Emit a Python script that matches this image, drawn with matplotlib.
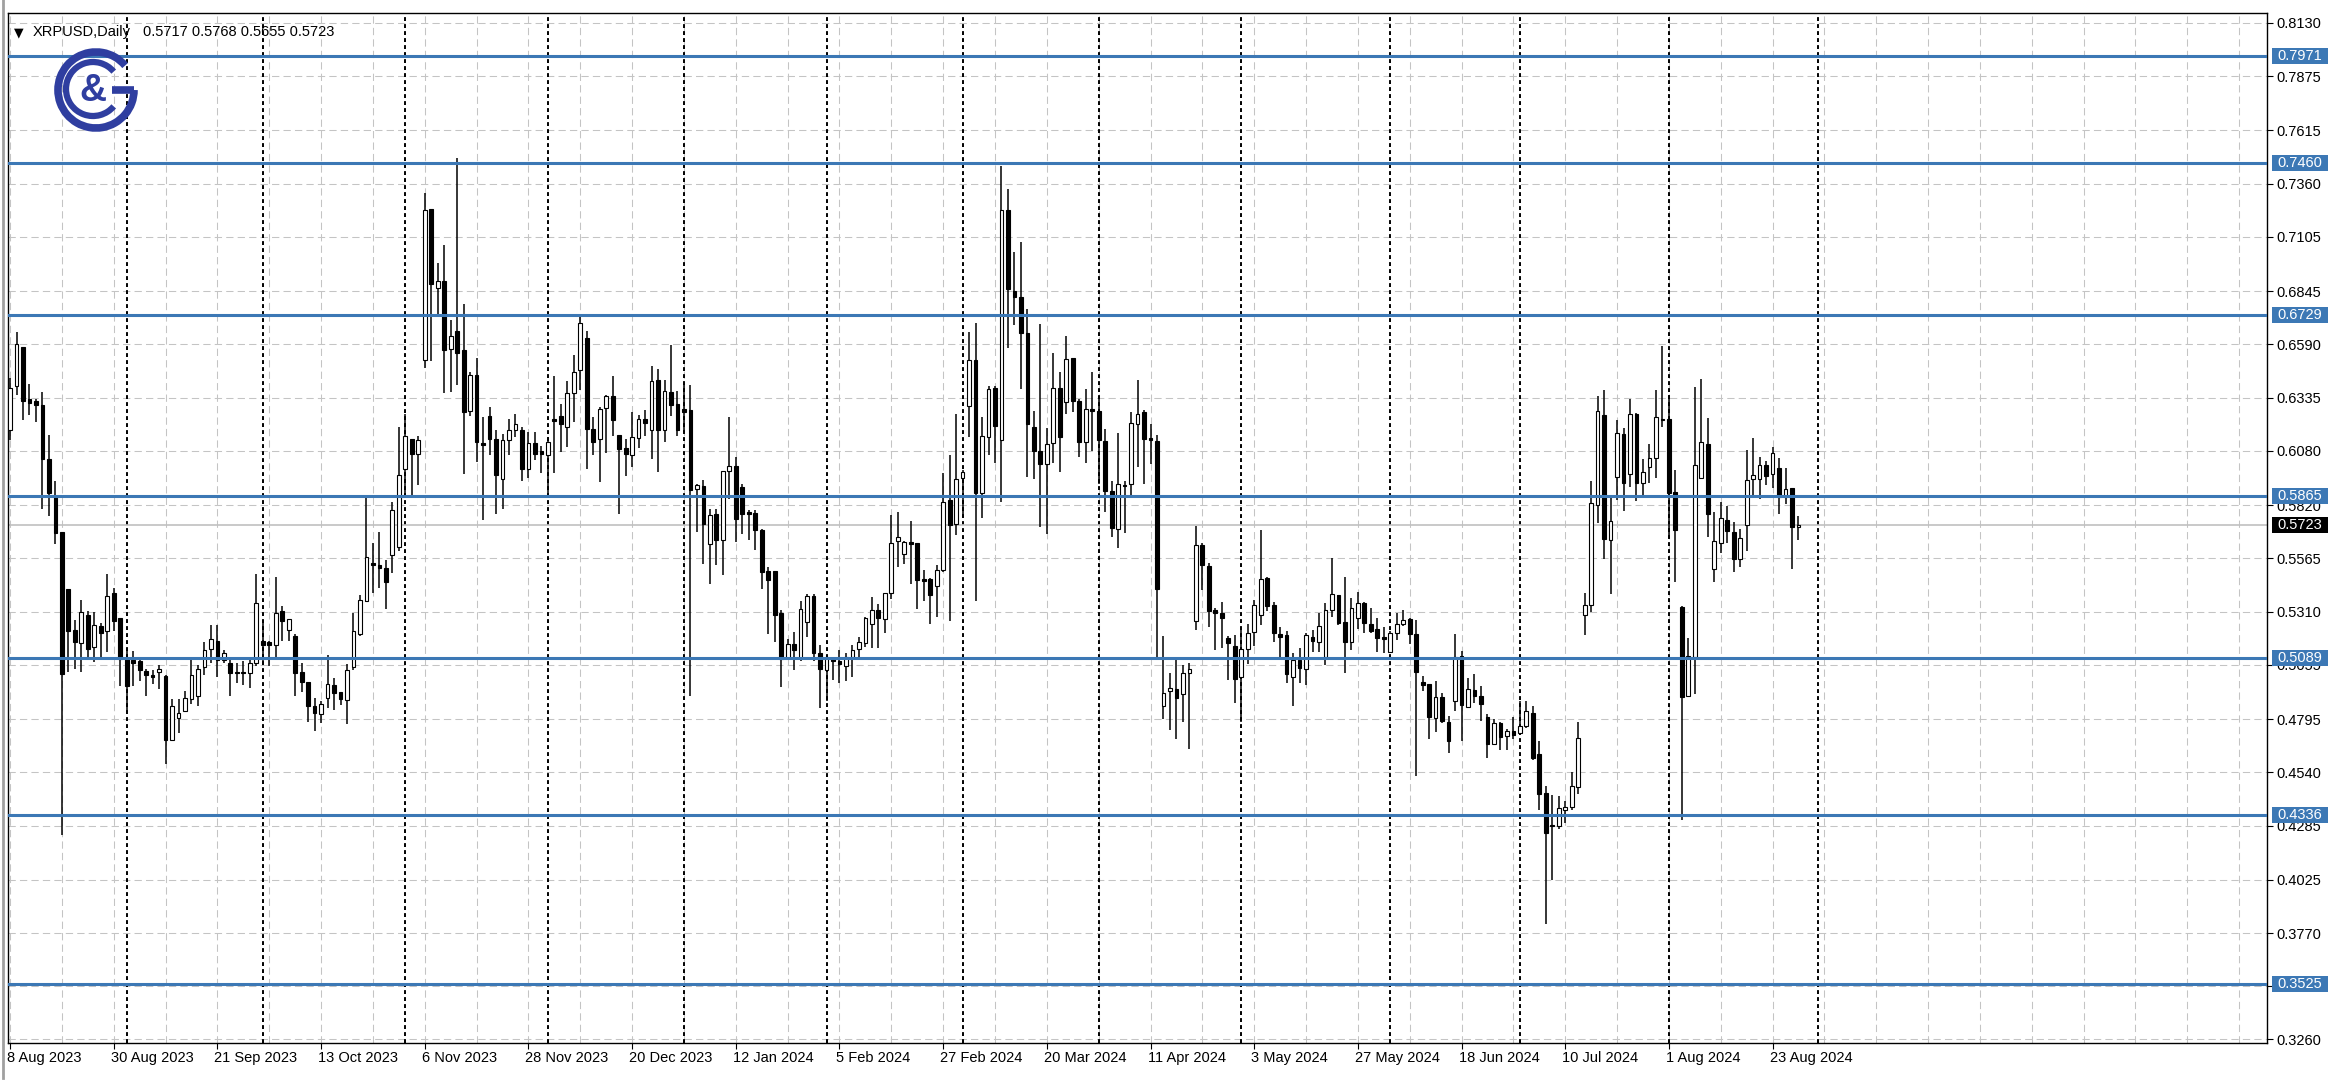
import numpy as np
import matplotlib
matplotlib.use('Agg')
import matplotlib.pyplot as plt
import matplotlib.transforms as mtransforms
from matplotlib.patches import Rectangle, Arc
from matplotlib.lines import Line2D

plt.rcParams['font.family'] = ['Liberation Sans', 'DejaVu Sans']

# XRPUSD daily bars, 8 Aug 2023 .. 29 Aug 2024 (weekdays only)
opens = [
    0.618, 0.639, 0.658, 0.633, 0.632, 0.630, 0.604, 0.586, 0.569, 0.5417,
    0.5223, 0.5158, 0.5292, 0.5142, 0.5239, 0.5215, 0.5401, 0.5279, 0.5085, 0.5077,
    0.5072, 0.5025, 0.5007, 0.5020, 0.5000, 0.4696, 0.4801, 0.4833, 0.4893, 0.4906,
    0.5047, 0.5130, 0.5171, 0.5079, 0.5063, 0.5023, 0.5023, 0.5018, 0.5063, 0.5170,
    0.5162, 0.5151, 0.5315, 0.5222, 0.5191, 0.5023, 0.4975, 0.4859, 0.4821, 0.4896,
    0.4959, 0.4923, 0.4888, 0.5044, 0.5203, 0.5363, 0.5544, 0.5533, 0.5517, 0.5581,
    0.5621, 0.5991, 0.6139, 0.6067, 0.6517, 0.7240, 0.6862, 0.6894, 0.6570, 0.6655,
    0.6562, 0.6272, 0.6442, 0.6118, 0.6246, 0.6139, 0.5943, 0.6131, 0.6182, 0.6179,
    0.5995, 0.6118, 0.6080, 0.6059, 0.6235, 0.6246, 0.6195, 0.6358, 0.6466, 0.6623,
    0.6187, 0.6138, 0.6287, 0.6341, 0.6154, 0.6095, 0.6058, 0.6143, 0.6234, 0.6178,
    0.6421, 0.6178, 0.6362, 0.6303, 0.6280, 0.6274, 0.5899, 0.5910, 0.5635, 0.5776,
    0.5654, 0.5983, 0.6006, 0.5907, 0.5787, 0.5782, 0.5702, 0.5504, 0.5504, 0.5303,
    0.5089, 0.5153, 0.5088, 0.5262, 0.5383, 0.5110, 0.5028, 0.5088, 0.5075, 0.5049,
    0.5093, 0.5133, 0.5158, 0.5249, 0.5319, 0.5276, 0.5401, 0.5650, 0.5585, 0.5644,
    0.5637, 0.5467, 0.5467, 0.5432, 0.5510, 0.5846, 0.5728, 0.5951, 0.6293, 0.6514,
    0.5876, 0.6145, 0.6380, 0.6133, 0.7233, 0.6847, 0.6818, 0.6646, 0.6195, 0.6078,
    0.6016, 0.6120, 0.6381, 0.6314, 0.6525, 0.6320, 0.6124, 0.6283, 0.6273, 0.6128,
    0.5886, 0.5705, 0.5917, 0.5923, 0.6208, 0.6264, 0.6143, 0.6128, 0.4857, 0.4928,
    0.4941, 0.4913, 0.5015, 0.5263, 0.5628, 0.5528, 0.5317, 0.5301, 0.5182, 0.5147,
    0.4996, 0.5129, 0.5214, 0.5293, 0.5469, 0.5341, 0.5202, 0.5198, 0.4998, 0.5078,
    0.5033, 0.5190, 0.5166, 0.5094, 0.5317, 0.5389, 0.5261, 0.5166, 0.5277, 0.5349,
    0.5253, 0.5225, 0.5186, 0.5118, 0.5206, 0.5253, 0.5273, 0.5201, 0.4974, 0.4965,
    0.4798, 0.4901, 0.4781, 0.4880, 0.5099, 0.4854, 0.4935, 0.4906, 0.4803, 0.4678,
    0.4774, 0.4713, 0.4740, 0.4730, 0.4764, 0.4825, 0.4627, 0.4439, 0.4290, 0.4282,
    0.4359, 0.4376, 0.4470, 0.5294, 0.5341, 0.5820, 0.6252, 0.5653, 0.5955, 0.6160,
    0.5971, 0.6258, 0.5924, 0.6003, 0.6045, 0.6231, 0.6231, 0.5881, 0.5334, 0.4908,
    0.5092, 0.5949, 0.6115, 0.5514, 0.5641, 0.5748, 0.5689, 0.5562, 0.5726, 0.5944,
    0.5944, 0.6013, 0.5968, 0.6000, 0.5860, 0.5904, 0.5717,
]
highs = [
    0.643, 0.665, 0.658, 0.640, 0.633, 0.636, 0.6155, 0.5936, 0.569, 0.5417,
    0.5271, 0.5364, 0.5315, 0.5309, 0.5255, 0.549, 0.5425, 0.5279, 0.5125, 0.5120,
    0.5077, 0.5036, 0.5028, 0.5056, 0.5004, 0.4890, 0.4890, 0.4931, 0.5077, 0.5056,
    0.5162, 0.5246, 0.5246, 0.5127, 0.5079, 0.5066, 0.5071, 0.5082, 0.5489, 0.5270,
    0.5167, 0.5474, 0.5337, 0.5273, 0.5203, 0.5066, 0.4975, 0.4896, 0.4880, 0.5103,
    0.4991, 0.4927, 0.5060, 0.5305, 0.5390, 0.5863, 0.5637, 0.5693, 0.5557, 0.5836,
    0.6195, 0.6259, 0.6139, 0.6150, 0.7315, 0.7240, 0.6980, 0.7065, 0.6706, 0.7484,
    0.6782, 0.6458, 0.6527, 0.6243, 0.6291, 0.6179, 0.6163, 0.6235, 0.6259, 0.6195,
    0.6171, 0.6171, 0.6102, 0.6147, 0.6438, 0.6307, 0.6415, 0.6538, 0.6734, 0.6655,
    0.6240, 0.6290, 0.6346, 0.6437, 0.6154, 0.6138, 0.6266, 0.6250, 0.6274, 0.6485,
    0.6473, 0.6421, 0.6585, 0.6366, 0.6402, 0.6398, 0.5919, 0.5942, 0.5803, 0.5803,
    0.5986, 0.6242, 0.6050, 0.5919, 0.5798, 0.5795, 0.5707, 0.5523, 0.5504, 0.5316,
    0.5180, 0.5212, 0.5363, 0.5394, 0.5394, 0.5150, 0.5101, 0.5088, 0.5128, 0.5110,
    0.5150, 0.5188, 0.5284, 0.5380, 0.5345, 0.5397, 0.5771, 0.5789, 0.5650, 0.5745,
    0.5641, 0.5510, 0.5470, 0.5533, 0.5972, 0.6058, 0.6259, 0.5989, 0.6650, 0.6694,
    0.6241, 0.6393, 0.6389, 0.7444, 0.7336, 0.7034, 0.7079, 0.6758, 0.6273, 0.6687,
    0.6189, 0.6549, 0.6456, 0.6631, 0.6525, 0.6329, 0.6376, 0.6456, 0.6344, 0.6184,
    0.5934, 0.6165, 0.5938, 0.6264, 0.6422, 0.6277, 0.6208, 0.6158, 0.5192, 0.5015,
    0.5077, 0.5052, 0.5065, 0.5718, 0.5640, 0.5541, 0.5325, 0.5357, 0.5193, 0.5198,
    0.5221, 0.5250, 0.5365, 0.5700, 0.5477, 0.5357, 0.5237, 0.5218, 0.5113, 0.5134,
    0.5206, 0.5221, 0.5301, 0.5352, 0.5565, 0.5389, 0.5474, 0.5373, 0.5405, 0.5357,
    0.5325, 0.5277, 0.5234, 0.5218, 0.5301, 0.5316, 0.5277, 0.5270, 0.5003, 0.4965,
    0.4979, 0.4918, 0.4812, 0.5201, 0.5123, 0.4991, 0.5013, 0.4952, 0.4820, 0.4795,
    0.4781, 0.4747, 0.4803, 0.4880, 0.4884, 0.4860, 0.4689, 0.4473, 0.4432, 0.4427,
    0.4405, 0.4542, 0.4781, 0.5401, 0.5936, 0.6341, 0.6370, 0.5865, 0.6226, 0.6188,
    0.6327, 0.6263, 0.6040, 0.6112, 0.6370, 0.6582, 0.6348, 0.5987, 0.5339, 0.5184,
    0.6386, 0.6423, 0.6239, 0.5785, 0.5833, 0.5817, 0.5737, 0.5705, 0.6083, 0.6144,
    0.6051, 0.6032, 0.6099, 0.6045, 0.6000, 0.5904, 0.5768,
]
lows = [
    0.613, 0.635, 0.623, 0.625, 0.622, 0.580, 0.577, 0.5636, 0.424, 0.5020,
    0.5036, 0.5020, 0.5093, 0.5069, 0.5093, 0.5117, 0.5215, 0.4955, 0.4829, 0.4955,
    0.4979, 0.4906, 0.4963, 0.4939, 0.4582, 0.4696, 0.4728, 0.4833, 0.4866, 0.4858,
    0.5007, 0.5066, 0.4999, 0.5066, 0.4904, 0.4967, 0.4959, 0.4943, 0.5050, 0.5055,
    0.5050, 0.5082, 0.5167, 0.5167, 0.4904, 0.4927, 0.4779, 0.4736, 0.4776, 0.4848,
    0.4840, 0.4864, 0.4773, 0.5028, 0.5191, 0.5358, 0.5398, 0.5422, 0.5321, 0.5493,
    0.5600, 0.5852, 0.5868, 0.5916, 0.6479, 0.6511, 0.6722, 0.6355, 0.6363, 0.6394,
    0.5968, 0.6246, 0.6027, 0.5750, 0.6059, 0.5780, 0.5800, 0.6059, 0.6147, 0.5936,
    0.5948, 0.6035, 0.5972, 0.5868, 0.5972, 0.6075, 0.6099, 0.6219, 0.6371, 0.5995,
    0.6059, 0.5930, 0.6069, 0.6149, 0.5779, 0.5962, 0.6002, 0.6095, 0.6149, 0.6042,
    0.5978, 0.6122, 0.6245, 0.6149, 0.6170, 0.4908, 0.5691, 0.5539, 0.5443, 0.5531,
    0.5483, 0.5851, 0.5643, 0.5680, 0.5654, 0.5606, 0.5419, 0.5204, 0.5164, 0.4951,
    0.5084, 0.5031, 0.5075, 0.5188, 0.5075, 0.4849, 0.4884, 0.4980, 0.4966, 0.4976,
    0.4997, 0.5093, 0.5140, 0.5136, 0.5136, 0.5206, 0.5371, 0.5523, 0.5536, 0.5441,
    0.5324, 0.5363, 0.5249, 0.5284, 0.5502, 0.5267, 0.5676, 0.5763, 0.6145, 0.5363,
    0.5759, 0.6058, 0.6020, 0.5835, 0.6572, 0.6683, 0.6376, 0.5953, 0.5947, 0.5714,
    0.5681, 0.6022, 0.5979, 0.6258, 0.6264, 0.6053, 0.6022, 0.6078, 0.5919, 0.5789,
    0.5667, 0.5617, 0.5686, 0.5863, 0.6003, 0.5919, 0.6016, 0.5080, 0.4797, 0.4745,
    0.4698, 0.4782, 0.4652, 0.5220, 0.5413, 0.5237, 0.5126, 0.5134, 0.4982, 0.4870,
    0.4783, 0.5059, 0.5145, 0.5245, 0.5314, 0.5166, 0.5081, 0.4966, 0.4858, 0.4966,
    0.4958, 0.5118, 0.5118, 0.5054, 0.5285, 0.5245, 0.5017, 0.5126, 0.5229, 0.5206,
    0.5206, 0.5118, 0.5113, 0.5110, 0.5174, 0.5239, 0.5157, 0.4521, 0.4928, 0.4701,
    0.4735, 0.4777, 0.4632, 0.4832, 0.4692, 0.4854, 0.4872, 0.4786, 0.4607, 0.4675,
    0.4649, 0.4649, 0.4701, 0.4726, 0.4752, 0.4598, 0.4359, 0.3812, 0.4026, 0.4268,
    0.4299, 0.4359, 0.4436, 0.5196, 0.5307, 0.5735, 0.5562, 0.5394, 0.5844, 0.5790,
    0.5908, 0.5841, 0.5857, 0.5928, 0.5949, 0.6195, 0.5665, 0.5450, 0.4311, 0.4908,
    0.4916, 0.5949, 0.5669, 0.5450, 0.5589, 0.5637, 0.5498, 0.5525, 0.5598, 0.5865,
    0.5849, 0.5917, 0.5901, 0.5777, 0.5825, 0.5514, 0.5655,
]
closes = [
    0.638, 0.659, 0.632, 0.631, 0.630, 0.604, 0.588, 0.5685, 0.501, 0.5215,
    0.5166, 0.5309, 0.5133, 0.5247, 0.5206, 0.5385, 0.5266, 0.5085, 0.4955, 0.5065,
    0.5028, 0.5004, 0.4996, 0.5036, 0.4696, 0.4858, 0.4825, 0.4898, 0.5004, 0.5036,
    0.5127, 0.5178, 0.5079, 0.5114, 0.5015, 0.5015, 0.5015, 0.5066, 0.5350, 0.5151,
    0.5151, 0.5305, 0.5267, 0.5273, 0.5018, 0.4975, 0.4859, 0.4824, 0.4869, 0.4964,
    0.4920, 0.4891, 0.5031, 0.5219, 0.5366, 0.5573, 0.5533, 0.5517, 0.5454, 0.5799,
    0.5964, 0.6150, 0.6067, 0.6134, 0.7236, 0.6878, 0.6894, 0.6565, 0.6629, 0.6549,
    0.6267, 0.6442, 0.6123, 0.6107, 0.6139, 0.5964, 0.6131, 0.6182, 0.6211, 0.5991,
    0.6118, 0.6067, 0.6067, 0.6123, 0.6224, 0.6208, 0.6358, 0.6458, 0.6693, 0.6187,
    0.6123, 0.6282, 0.6341, 0.6229, 0.6090, 0.6066, 0.6146, 0.6234, 0.6213, 0.6414,
    0.6181, 0.6366, 0.6298, 0.6181, 0.6267, 0.5894, 0.5915, 0.5728, 0.5771, 0.5651,
    0.5983, 0.6006, 0.5755, 0.5779, 0.5779, 0.5699, 0.5499, 0.5462, 0.5296, 0.5084,
    0.5156, 0.5124, 0.5324, 0.5383, 0.5110, 0.5035, 0.5093, 0.5075, 0.5058, 0.5093,
    0.5128, 0.5162, 0.5279, 0.5319, 0.5279, 0.5397, 0.5637, 0.5667, 0.5644, 0.5632,
    0.5463, 0.5458, 0.5389, 0.5510, 0.5836, 0.5724, 0.5945, 0.5980, 0.6514, 0.5876,
    0.6149, 0.6375, 0.6198, 0.7233, 0.6855, 0.6818, 0.6646, 0.6208, 0.6078, 0.6016,
    0.6115, 0.6381, 0.6147, 0.6519, 0.6320, 0.6124, 0.6283, 0.6273, 0.6133, 0.5886,
    0.5710, 0.5919, 0.5911, 0.6214, 0.6255, 0.6139, 0.6133, 0.5420, 0.4922, 0.4946,
    0.4894, 0.5015, 0.5034, 0.5630, 0.5533, 0.5314, 0.5301, 0.5277, 0.5158, 0.4985,
    0.5129, 0.5209, 0.5341, 0.5464, 0.5336, 0.5206, 0.5186, 0.5011, 0.5078, 0.5038,
    0.5198, 0.5170, 0.5241, 0.5317, 0.5394, 0.5257, 0.5166, 0.5325, 0.5349, 0.5257,
    0.5218, 0.5182, 0.5177, 0.5209, 0.5250, 0.5270, 0.5201, 0.5020, 0.4957, 0.4803,
    0.4901, 0.4786, 0.4692, 0.5094, 0.4863, 0.4940, 0.4906, 0.4866, 0.4678, 0.4774,
    0.4709, 0.4740, 0.4718, 0.4764, 0.4832, 0.4610, 0.4436, 0.4251, 0.4282, 0.4371,
    0.4376, 0.4473, 0.4706, 0.5341, 0.5829, 0.6273, 0.5657, 0.5742, 0.6167, 0.5924,
    0.6258, 0.5924, 0.5981, 0.6048, 0.6242, 0.6226, 0.5876, 0.5700, 0.4900, 0.5095,
    0.6013, 0.6124, 0.5777, 0.5649, 0.5758, 0.5694, 0.5562, 0.5665, 0.5940, 0.5965,
    0.6013, 0.5960, 0.6072, 0.5860, 0.5897, 0.5716, 0.5723,
]

date_labels = ['8 Aug 2023', '30 Aug 2023', '21 Sep 2023', '13 Oct 2023', '6 Nov 2023',
               '28 Nov 2023', '20 Dec 2023', '12 Jan 2024', '5 Feb 2024', '27 Feb 2024',
               '20 Mar 2024', '11 Apr 2024', '3 May 2024', '27 May 2024', '18 Jun 2024',
               '10 Jul 2024', '1 Aug 2024', '23 Aug 2024']
label_every = 16
month_starts = [18, 39, 61, 83, 104, 126, 147, 168, 190, 213, 233, 256, 279]
price_ticks = [0.8130, 0.7875, 0.7615, 0.7360, 0.7105, 0.6845, 0.6590, 0.6335, 0.6080,
               0.5820, 0.5565, 0.5310, 0.5055, 0.4795, 0.4540, 0.4285, 0.4025, 0.3770,
               0.3515, 0.3260]
levels = [0.7971, 0.7460, 0.6729, 0.5865, 0.5089, 0.4336, 0.3525]
last_price = 0.5723
header = 'XRPUSD,Daily'
header_ohlc = '0.5717 0.5768 0.5655 0.5723'

O = np.array(opens)
Hh = np.array(highs)
L = np.array(lows)
C = np.array(closes)
x = np.arange(len(O))

W, H = 2335, 1089
fig = plt.figure(figsize=(W / 100, H / 100), dpi=100)
fig.patch.set_facecolor('white')
ax = fig.add_axes([7.5 / W, 1 - 1043 / H, (2267 - 7.5) / W, (1043 - 13) / H])
ax.set_xlim(-0.39, 348.3)
ax.set_ylim(0.32432, 0.81779)

grid_c = '#c4c4c4'
blue = '#3c78b5'
for v in price_ticks:
    ax.axhline(v, color=grid_c, lw=0.75, ls=(0, (7, 4)), zorder=1)
for gx in range(0, 349, 8):
    ax.axvline(gx, color=grid_c, lw=0.75, ls=(0, (7, 4)), zorder=1)
for m in month_starts:
    ax.axvline(m, color='black', lw=1.4, ls=(0, (2, 1.6)), zorder=2)

ax.axhline(last_price, color='#c0c0c0', lw=1.2, zorder=2)

# candles
ax.vlines(x, L, Hh, color='black', lw=1.1, zorder=3)
up = C >= O
body_lo = np.minimum(O, C)
body_h = np.maximum(np.abs(C - O), 0.0005)
ax.bar(x, body_h, bottom=body_lo, width=0.58,
       color=np.where(up, 'white', 'black'), edgecolor='black', linewidth=0.8, zorder=4)

for lv in levels:
    ax.axhline(lv, color=blue, lw=2.2, zorder=5)

# axes styling
for s in ax.spines.values():
    s.set_color('black')
    s.set_linewidth(1.0)
ax.yaxis.tick_right()
ax.set_yticks(price_ticks)
ax.set_yticklabels([f'{v:.4f}' for v in price_ticks])
ax.tick_params(axis='y', length=4.3, width=0.8, pad=2.5, labelsize=10.5, colors='black')
ax.set_xticks([i * label_every for i in range(len(date_labels))])
ax.set_xticklabels(date_labels, ha='left')
ax.tick_params(axis='x', length=4.3, width=0.8, pad=1.5, labelsize=10.5, colors='black')
shift = mtransforms.ScaledTranslation(-3 / 100, 0, fig.dpi_scale_trans)
for lab in ax.get_xticklabels():
    lab.set_transform(lab.get_transform() + shift)

# price boxes on the right
blend = mtransforms.blended_transform_factory(mtransforms.IdentityTransform(), ax.transData)
box_h = 16 / 2087.3
for lv in levels:
    ax.add_patch(Rectangle((2272, lv - box_h / 2), 56, box_h, transform=blend,
                           facecolor=blue, edgecolor='none', clip_on=False, zorder=6))
    ax.text(2300, lv, f'{lv:.4f}', transform=blend, ha='center', va='center',
            color='white', fontsize=10.5, clip_on=False, zorder=7)
ax.add_patch(Rectangle((2272, last_price - box_h / 2), 56, box_h, transform=blend,
                       facecolor='black', edgecolor='none', clip_on=False, zorder=6))
ax.text(2300, last_price, f'{last_price:.4f}', transform=blend, ha='center', va='center',
        color='white', fontsize=10.5, clip_on=False, zorder=7)

# header
fig.text(14 / W, 1 - 36 / H, '\u25bc', fontsize=9, va='baseline', ha='left',
         family=['DejaVu Sans'])
fig.text(33 / W, 1 - 36 / H, header, fontsize=10.5, va='baseline', ha='left')
fig.text(143 / W, 1 - 36 / H, header_ohlc, fontsize=10.5, va='baseline', ha='left')

# window border on the left
fig.add_artist(Line2D([2.5, 2.5], [H - 1078, H], color='#a0a0a0', lw=2,
                      transform=mtransforms.IdentityTransform()))

# logo
logo_c = '#2f3ea0'
cx, cy = 96, H - 90
ident = mtransforms.IdentityTransform()
fig.add_artist(Arc((cx, cy), 76, 76, theta1=40, theta2=360, lw=5.5, color=logo_c,
                   transform=ident))
fig.add_artist(Line2D([cx + 16, cx + 38], [cy, cy], lw=5.5, color=logo_c,
                      solid_capstyle='butt', transform=ident))
fig.add_artist(Arc((cx - 3, cy + 1), 54, 54, theta1=40, theta2=320, lw=4.5, color=logo_c,
                   transform=ident))
fig.text(cx - 3, cy - 1, '&', fontsize=27, fontweight='bold', color=logo_c,
         ha='center', va='center', transform=ident)

fig.savefig('out.png', dpi=100)
